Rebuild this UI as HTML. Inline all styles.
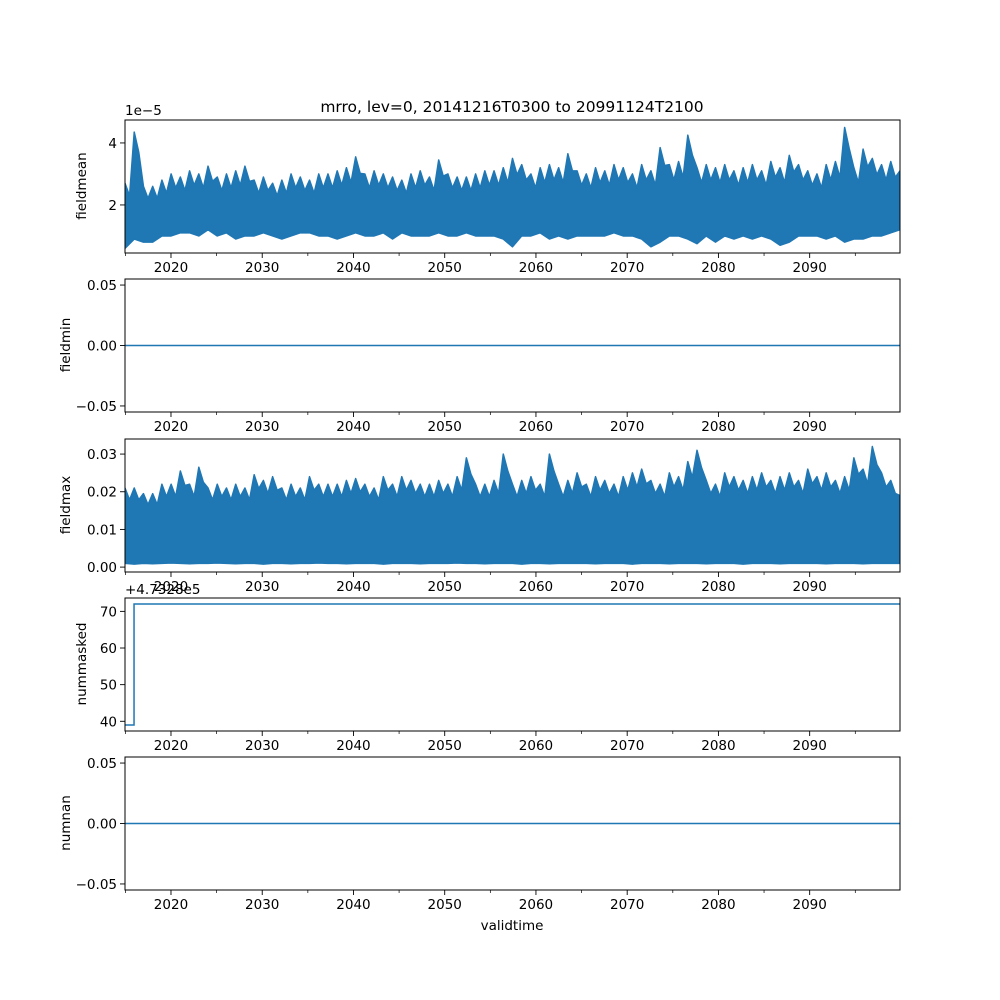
<!DOCTYPE html>
<html><head><meta charset="utf-8"><style>
body{margin:0;background:#fff}
svg{display:block;font-family:"DejaVu Sans","Liberation Sans",sans-serif}
</style></head><body>
<svg id="fig" width="1000" height="1000" viewBox="0 0 1000 1000">
<rect width="1000" height="1000" fill="#fff"/>
<text x="512" y="112" font-size="15.5" text-anchor="middle">mrro, lev=0, 20141216T0300 to 20991124T2100</text>
<g id="plots"></g>
</svg>
<script>
// ---- data ----
const xTickLabels = ["2020","2030","2040","2050","2060","2070","2080","2090"];
const meanHigh = [2.7,4.35,2.6,2.6,2.8,3.0,2.9,3.1,3.0,3.25,2.9,3.0,3.1,3.25,2.8,2.9,2.7,2.8,3.0,2.9,2.8,3.0,3.0,3.1,3.2,3.55,3.0,3.1,3.0,2.9,2.8,3.0,3.1,2.9,3.45,3.0,2.9,2.9,3.0,3.1,3.1,3.2,3.5,3.3,3.0,3.2,3.3,3.2,3.65,3.1,3.0,3.2,3.1,3.3,3.2,3.0,3.3,3.1,3.85,3.3,3.4,4.25,3.2,3.3,3.2,3.3,3.1,3.2,3.3,3.1,3.4,3.2,3.6,3.3,3.1,3.0,3.3,3.4,4.5,3.2,3.8,3.5,3.3,3.4,3.1];
const meanLow = [0.6,0.9,0.8,0.8,1.0,1.0,1.1,1.1,1.0,1.2,1.0,1.1,0.9,1.0,1.0,1.1,1.0,0.9,1.0,1.1,1.1,1.0,1.0,0.9,1.0,1.1,1.0,1.0,1.1,0.9,1.1,1.0,1.0,1.0,1.1,1.0,1.0,1.1,1.0,1.0,1.0,0.9,0.65,1.0,1.0,1.1,0.9,1.0,0.9,1.0,1.0,1.0,1.0,1.1,1.0,1.0,0.9,0.65,0.8,1.0,1.0,0.9,0.75,1.0,0.8,1.0,0.9,1.0,0.9,1.0,0.9,0.7,0.8,1.0,1.0,1.0,0.9,1.0,0.8,0.9,0.9,1.0,1.0,1.1,1.2];
const maxHigh = [0.021,0.021,0.0195,0.0195,0.022,0.022,0.0255,0.022,0.0265,0.021,0.022,0.021,0.022,0.021,0.0245,0.023,0.024,0.021,0.022,0.021,0.024,0.022,0.022,0.022,0.023,0.0235,0.022,0.021,0.024,0.022,0.024,0.023,0.022,0.022,0.023,0.022,0.024,0.029,0.022,0.022,0.023,0.03,0.022,0.023,0.024,0.022,0.03,0.022,0.023,0.025,0.022,0.024,0.023,0.022,0.024,0.025,0.026,0.023,0.022,0.025,0.024,0.028,0.031,0.023,0.022,0.025,0.024,0.023,0.024,0.025,0.023,0.024,0.025,0.023,0.026,0.024,0.025,0.023,0.024,0.029,0.026,0.032,0.025,0.023,0.019];
const maxLow = [0.001,0.0008,0.001,0.0009,0.001,0.0011,0.001,0.0009,0.001,0.001,0.0011,0.001,0.0009,0.001,0.001,0.0008,0.001,0.001,0.0009,0.001,0.001,0.0011,0.001,0.001,0.0009,0.001,0.001,0.001,0.0008,0.001,0.001,0.001,0.0009,0.001,0.001,0.001,0.0011,0.001,0.001,0.0009,0.001,0.001,0.001,0.0008,0.001,0.001,0.0009,0.001,0.001,0.001,0.001,0.0009,0.001,0.001,0.001,0.0008,0.001,0.001,0.001,0.0009,0.001,0.001,0.001,0.0009,0.001,0.001,0.001,0.0008,0.001,0.001,0.001,0.0009,0.001,0.001,0.001,0.001,0.0009,0.001,0.001,0.001,0.0009,0.001,0.001,0.001,0.001];
const maskedYears = [2014.96, 2015.95, 2099.9];
const maskedValues = [39, 72, 72];
const minValue = 0, nanValue = 0;

const X0=125, X1=900, T0=2014.96, T1=2099.9;
const xs = t => X0 + (t-T0)/(T1-T0)*(X1-X0);
const NS="http://www.w3.org/2000/svg";
const root=document.getElementById('plots');
function el(tag,attrs,parent){const e=document.createElementNS(NS,tag);for(const k in attrs)e.setAttribute(k,attrs[k]);(parent||root).appendChild(e);return e;}
function txt(s,attrs,parent){const e=el('text',attrs,parent);e.textContent=s;return e;}
const C="#1f77b4";

function panel(name,top,ymin,ymax,yticks,ylabel){
  const g=el('g',{});
  
  
  const bot=top+133;
  const ys=v=>bot-(v-ymin)/(ymax-ymin)*133;
  // x ticks
  xTickLabels.forEach(l=>{const x=xs(+l);
    el('line',{x1:x,x2:x,y1:bot,y2:bot+5,stroke:'#000','stroke-width':0.9},g);
    const t=txt(l,{x:x,y:bot+19,'font-size':13.5,'text-anchor':'middle'},g);
    
    });
  for(let yr=2015;yr<2100;yr+=10){const x=xs(yr);el('line',{x1:x,x2:x,y1:bot,y2:bot+3,stroke:'#000','stroke-width':0.7},g);}
  yticks.forEach(([v,l])=>{const y=ys(v);
    el('line',{x1:X0-5,x2:X0,y1:y,y2:y,stroke:'#000','stroke-width':0.9},g);
    const t=txt(l,{x:X0-8,y:y+5,'font-size':13.5,'text-anchor':'end'},g);
    
    });
  const yl=txt(ylabel,{x:0,y:0,'font-size':13.5,'text-anchor':'middle',transform:`translate(${ylabel.length>8?86:70},${top+66}) rotate(-90)`},g);
  
  
  const clip=el('clipPath',{id:'c'+name},g);el('rect',{x:X0,y:top,width:X1-X0,height:133},clip);
  const pg=el('g',{'clip-path':`url(#c${name})`},g);
  return {g,pg,ys,top,bot};
}
function frame(p){el('rect',{x:X0,y:p.top,width:X1-X0,height:133,fill:'none',stroke:'#000','stroke-width':1},p.g);}
function band(p,hi,lo,name){
  const n=hi.length, tx=i=>xs(T0+i*(T1-T0)/(n-1));
  let d='M';
  for(let i=0;i<n;i++){d+=tx(i)+','+p.ys(hi[i])+' L';d+=(tx(i)+(T1-T0)/(n-1)*4.5)+','+p.ys(hi[i]*0.85)+' L';}
  for(let i=n-1;i>=0;i--){d+=tx(i)+','+p.ys(lo[i])+(i?' L':'');}
  const e=el('path',{d:d+'Z',fill:C,stroke:C,'stroke-width':1.5,'stroke-linejoin':'round'},p.pg);
  
  
}
function hline(p,v,name){const e=el('line',{x1:X0,x2:X1,y1:p.ys(v),y2:p.ys(v),stroke:C,'stroke-width':1.5},p.pg);
  
  }

const p1=panel('fieldmean',120,0.45,4.74,[[2,'2'],[4,'4']],'fieldmean');
band(p1,meanHigh,meanLow,'fieldmean-series');frame(p1);
txt('1e\u22125',{x:125,y:115,'font-size':13.5},p1.g);

const zt=[[-0.05,'\u22120.05'],[0,'0.00'],[0.05,'0.05']];
const p2=panel('fieldmin',279,-0.055,0.055,zt,'fieldmin');
hline(p2,minValue,'fieldmin-series');frame(p2);

const p3=panel('fieldmax',439,-0.0013,0.034,[[0,'0.00'],[0.01,'0.01'],[0.02,'0.02'],[0.03,'0.03']],'fieldmax');
band(p3,maxHigh,maxLow,'fieldmax-series');frame(p3);

const p4=panel('nummasked',598,37.35,73.65,[[40,'40'],[50,'50'],[60,'60'],[70,'70']],'nummasked');
let d='M'+xs(maskedYears[0])+','+p4.ys(maskedValues[0]);
for(let i=1;i<maskedYears.length;i++){d+=' L'+xs(maskedYears[i])+','+p4.ys(maskedValues[i-1])+' L'+xs(maskedYears[i])+','+p4.ys(maskedValues[i]);}
const sp=el('path',{d:d,fill:'none',stroke:C,'stroke-width':1.5},p4.pg);


frame(p4);
txt('+4.7328e5',{x:125,y:594,'font-size':13.5},p4.g);

const p5=panel('numnan',757,-0.055,0.055,zt,'numnan');
hline(p5,nanValue,'numnan-series');frame(p5);
const xl=txt('validtime',{x:512,y:930,'font-size':13.5,'text-anchor':'middle'},p5.g);


</script>
</body></html>
